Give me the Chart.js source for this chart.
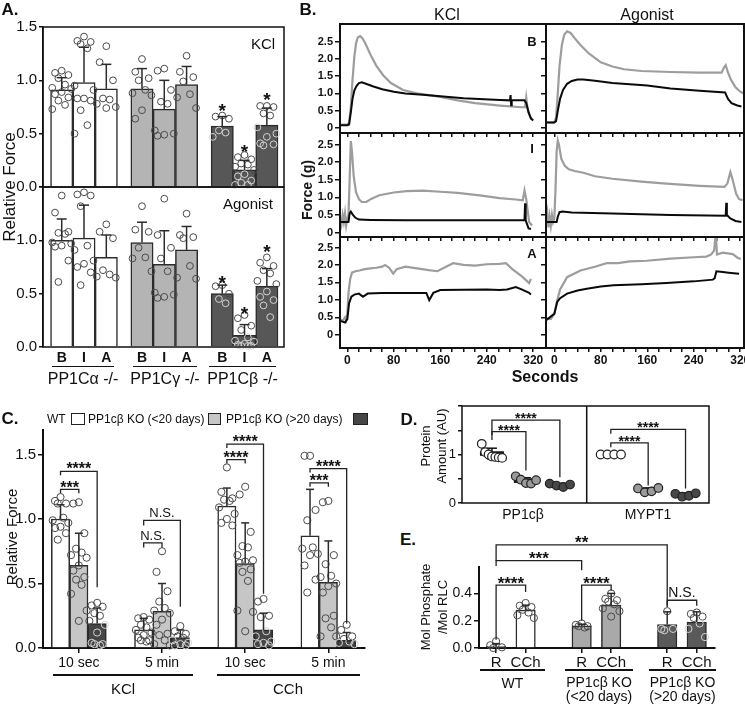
<!DOCTYPE html>
<html>
<head>
<meta charset="utf-8">
<title>PP1C knockout force figure</title>
<script src="https://cdn.jsdelivr.net/npm/chart.js@4.4.1/dist/chart.umd.min.js"></script>
<style>
  body { margin: 0; background: #fff; }
  #fig { position: relative; width: 745px; height: 705px; overflow: hidden; background: #fff;
         font-family: "Liberation Sans", Arial, sans-serif; color: #111; }
  #fig canvas { position: absolute; }
  .t { position: absolute; white-space: pre; line-height: 1; text-align: center; }
  .rule { position: absolute; height: 1.5px; background: #111; }
  .box { position: absolute; box-sizing: border-box; border: 1.3px solid #222; }
</style>
</head>
<body>
<div id="fig"></div>
<script>
// ---------- A. relative force, B / I / A for each PP1C knockout ----------
const aGenotypes = ['PP1Cα -/-', 'PP1Cγ -/-', 'PP1Cβ -/-'];
const aRegions = ['B', 'I', 'A'];
const aKclMean = [0.91, 0.98, 0.92, 0.92, 0.73, 0.96, 0.57, 0.16, 0.58];
const aKclSD = [0.115, 0.33, 0.23, 0.19, 0.27, 0.17, 0.09, 0.09, 0.16];
const aKclPts = [
  [1.09, 1.07, 1.05, 1.02, 0.96, 0.93, 0.92, 0.89, 0.87, 0.84, 0.81, 0.77, 0.73],
  [1.41, 1.37, 1.36, 1.34, 1.30, 0.95, 0.91, 0.83, 0.83, 0.81, 0.72, 0.58, 0.50],
  [1.32, 1.17, 1.00, 0.83, 0.82, 0.78, 0.75, 0.74],
  [1.20, 1.08, 1.02, 1.00, 0.91, 0.88, 0.86, 0.72, 0.64],
  [1.11, 1.09, 0.91, 0.80, 0.78, 0.53, 0.50, 0.49, 0.48],
  [1.23, 1.08, 1.03, 0.99, 0.87, 0.84, 0.74],
  [0.67, 0.66, 0.64, 0.53, 0.51, 0.47],
  [0.30, 0.28, 0.26, 0.22, 0.21, 0.19, 0.16, 0.12, 0.10, 0.06, 0.04, 0.02, 0.02],
  [0.76, 0.76, 0.75, 0.69, 0.67, 0.56, 0.50, 0.47, 0.41, 0.40, 0.39]
];
const aKclStars = [0.76, 0.375, 0.86];
const aAgoMean = [1.0, 1.02, 0.84, 0.98, 0.775, 0.91, 0.50, 0.11, 0.57];
const aAgoSD = [0.2, 0.31, 0.21, 0.19, 0.315, 0.22, 0.08, 0.10, 0.165];
const aAgoPts = [
  [1.42, 1.26, 1.08, 1.07, 1.06, 0.98, 0.97, 0.95, 0.94, 0.81, 0.61],
  [1.45, 1.43, 1.42, 1.32, 0.95, 0.91, 0.81, 0.78, 0.75, 0.70, 0.58],
  [1.15, 1.08, 1.02, 0.72, 0.68, 0.66, 0.65],
  [1.32, 1.10, 1.08, 0.93, 0.84, 0.83, 0.71],
  [1.39, 1.05, 0.93, 0.83, 0.71, 0.51, 0.49, 0.47, 0.46],
  [1.25, 1.05, 1.03, 1.02, 0.76, 0.65, 0.64],
  [0.58, 0.57, 0.50, 0.45, 0.41],
  [0.30, 0.27, 0.20, 0.16, 0.09, 0.06, 0.05, 0.03, 0.02, 0.01, 0.01, 0.01],
  [0.84, 0.79, 0.76, 0.72, 0.69, 0.62, 0.59, 0.52, 0.47, 0.44, 0.39, 0.28]
];
const aAgoStars = [0.65, 0.36, 0.94];

// ---------- B. force traces, [time (s), force (g)] ----------
const trKclB_gray = [[-12,0.1],[0,0.1],[3,0.15],[6,0.6],[9,1.4],[12,2.05],[15,2.45],[18,2.62],[22,2.66],[26,2.6],[30,2.48],[35,2.3],[40,2.12],[50,1.8],[62,1.52],[75,1.3],[96,1.1],[120,1.0],[140,0.95],[160,0.9],[190,0.8],[220,0.72],[263,0.65],[300,0.6],[306,0.6],[308,0.88],[310,0.6],[313,0.4],[317,0.25]];
const trKclB_black = [[-12,0.08],[0,0.08],[3,0.1],[6,0.45],[9,0.85],[12,1.08],[16,1.22],[20,1.3],[25,1.32],[32,1.28],[45,1.2],[60,1.12],[80,1.05],[100,1.0],[130,0.96],[160,0.92],[200,0.86],[263,0.81],[280,0.8],[281,0.95],[282,0.66],[283,0.8],[305,0.8],[308,0.72],[312,0.45],[316,0.28],[320,0.22]];
const trAgoB_gray = [[-14,0.16],[0,0.16],[3,0.3],[6,1.0],[9,1.8],[13,2.4],[17,2.7],[22,2.8],[28,2.75],[35,2.6],[45,2.4],[60,2.15],[80,1.9],[100,1.78],[120,1.7],[150,1.65],[200,1.62],[250,1.6],[288,1.6],[292,1.75],[295,1.82],[299,1.6],[304,1.4],[312,1.18],[320,1.05],[326,1.0]];
const trAgoB_black = [[-14,0.16],[0,0.16],[3,0.2],[6,0.5],[10,0.85],[15,1.1],[22,1.28],[30,1.36],[40,1.4],[50,1.4],[70,1.37],[100,1.3],[160,1.23],[200,1.14],[250,1.08],[294,1.03],[296,0.95],[299,0.84],[305,0.72],[315,0.65],[322,0.62]];
const trKclI_gray = [[-12,0.45],[-10,0.25],[-8,0.5],[-6,0.3],[-4,0.55],[-2,0.2],[0,0.4],[2,0.5],[4,1.5],[6,2.6],[8,2.3],[11,1.6],[15,1.15],[20,0.95],[25,0.87],[33,0.87],[40,0.95],[55,1.06],[80,1.14],[102,1.18],[130,1.19],[160,1.16],[190,1.13],[228,1.06],[262,0.98],[290,0.94],[302,0.92],[305,1.2],[308,0.95],[313,0.3],[318,0.2]];
const trKclI_black = [[-12,0.3],[2,0.3],[4,0.55],[6,0.6],[9,0.52],[14,0.42],[20,0.37],[40,0.36],[100,0.35],[200,0.35],[305,0.35],[306,0.83],[307,0.35],[312,0.12],[316,0.1]];
const trAgoI_gray = [[-14,0.3],[-12,0.55],[-10,0.15],[-8,0.45],[-6,0.2],[-4,0.5],[-2,0.3],[0,0.4],[2,1.2],[4,2.3],[6,2.62],[8,2.5],[12,2.1],[18,1.9],[25,1.8],[35,1.75],[50,1.7],[70,1.6],[100,1.53],[150,1.45],[193,1.39],[250,1.33],[293,1.3],[298,1.4],[303,1.72],[307,1.5],[313,1.1],[318,0.95],[324,0.92]];
const trAgoI_black = [[-14,0.3],[4,0.3],[6,0.45],[9,0.58],[14,0.6],[30,0.57],[100,0.54],[200,0.5],[295,0.48],[296,0.85],[297,0.5],[303,0.4],[312,0.33],[322,0.3]];
const trKclA_gray = [[-12,0.45],[-8,0.4],[-4,0.5],[-2,0.42],[0,0.6],[2,1.2],[5,1.6],[8,1.78],[14,1.82],[21,1.84],[30,1.88],[40,1.9],[50,1.92],[60,1.95],[65,2.0],[72,1.92],[79,1.75],[85,1.88],[100,1.95],[120,1.9],[140,1.85],[155,1.82],[170,1.95],[182,2.05],[200,2.0],[220,1.98],[240,2.02],[262,2.03],[273,2.05],[284,1.88],[300,1.68],[313,1.48],[316,1.6]];
const trKclA_black = [[-12,0.4],[-4,0.35],[0,0.45],[3,0.9],[7,1.09],[12,1.15],[20,1.18],[27,1.09],[35,1.18],[60,1.2],[100,1.2],[136,1.2],[141,0.99],[148,1.2],[160,1.28],[200,1.29],[240,1.3],[262,1.28],[275,1.3],[290,1.37],[300,1.3],[313,1.2],[316,1.15]];
const trAgoA_gray = [[-14,0.47],[-6,0.45],[0,0.6],[5,0.99],[10,1.3],[22,1.65],[45,1.84],[70,1.95],[90,2.05],[110,2.05],[130,2.1],[159,2.12],[200,2.18],[240,2.22],[262,2.24],[270,2.3],[275,2.41],[278,2.9],[280,2.3],[290,2.35],[307,2.31],[316,2.2],[321,2.17]];
const trAgoA_black = [[-14,0.42],[-4,0.55],[0,0.6],[5,0.94],[10,1.05],[22,1.18],[40,1.27],[56,1.32],[80,1.38],[102,1.42],[150,1.45],[193,1.48],[240,1.53],[273,1.58],[276,1.62],[279,1.82],[290,1.8],[300,1.78],[318,1.75]];
const bTicksX = [0, 20, 40, 60, 80, 100, 120, 140, 160, 180, 200, 220, 240, 260, 280, 300, 320];
const bTicksY = [0, 0.5, 1, 1.5, 2, 2.5];

// ---------- C. relative force, WT vs PP1cβ KO ----------
const cTimes = ['10 sec', '5 min', '10 sec', '5 min'];
const cStimuli = ['KCl', 'CCh'];
const cGroups = ['WT', 'PP1cβ KO (<20 days)', 'PP1cβ KO (>20 days)'];
const cMean = [[1.0, 0.64, 0.19], [0.14, 0.285, 0.08], [1.10, 0.655, 0.14], [0.87, 0.51, 0.06]];
const cSD = [[0.11, 0.25, 0.12], [0.09, 0.215, 0.06], [0.14, 0.315, 0.13], [0.36, 0.32, 0.06]];
const cPts = [
  [[1.17, 1.14, 1.12, 1.12, 1.01, 0.99, 0.97, 0.94, 0.93, 0.89, 0.84],
   [1.13, 1.12, 0.89, 0.77, 0.74, 0.72, 0.70, 0.64, 0.60, 0.55, 0.53, 0.49, 0.42, 0.29, 0.21],
   [0.35, 0.33, 0.32, 0.27, 0.25, 0.21, 0.18, 0.12, 0.04, 0.03, 0.03, 0.02]],
  [[0.24, 0.23, 0.22, 0.18, 0.16, 0.14, 0.12, 0.10, 0.08, 0.06, 0.05, 0.06],
   [0.75, 0.59, 0.44, 0.36, 0.31, 0.29, 0.27, 0.22, 0.18, 0.11, 0.10, 0.06, 0.03, 0.02],
   [0.17, 0.13, 0.11, 0.09, 0.08, 0.06, 0.04, 0.03, 0.02, 0.02]],
  [[1.40, 1.21, 1.16, 1.15, 1.14, 1.09, 1.04, 1.00, 0.97, 0.95],
   [1.25, 1.19, 0.90, 0.79, 0.78, 0.72, 0.68, 0.67, 0.66, 0.61, 0.59, 0.52, 0.29, 0.28, 0.13],
   [0.38, 0.36, 0.25, 0.24, 0.13, 0.09, 0.05, 0.04, 0.03, 0.02]],
  [[1.49, 1.49, 1.07, 0.99, 0.78, 0.77, 0.73, 0.72, 0.64, 0.53, 0.43],
   [1.14, 1.13, 0.72, 0.65, 0.56, 0.55, 0.50, 0.48, 0.43, 0.25, 0.23, 0.16, 0.09, 0.09],
   [0.18, 0.14, 0.09, 0.07, 0.05, 0.04, 0.03]]
];
// [time group, from, to, bracket height, left leg end, right leg end, label]
const cBrackets = [
  [0, 0, 1, 1.23, 1.20, 1.20, '***'], [0, 0, 2, 1.37, 1.34, 0.47, '****'],
  [1, 0, 1, 0.815, 0.78, 0.78, 'N.S.'], [1, 0, 2, 0.99, 0.95, 0.32, 'N.S.'],
  [2, 0, 1, 1.46, 1.43, 1.43, '****'], [2, 0, 2, 1.58, 1.55, 0.42, '****'],
  [3, 0, 1, 1.28, 1.25, 1.25, '***'], [3, 0, 2, 1.39, 1.36, 0.19, '****']
];

// ---------- D. protein amount ----------
const dProteins = ['PP1cβ', 'MYPT1'];
const dMean = [[1.02, 0.46, 0.37], [1.0, 0.27, 0.17]];
const dSD = [[0.11, 0.06, 0.03], [0, 0.04, 0.03]];
const dPts = [
  [[1.22, 1.05, 1.0, 0.96, 0.95, 0.94, 0.93], [0.55, 0.48, 0.41, 0.40, 0.47], [0.40, 0.36, 0.33, 0.38]],
  [[1, 1, 1, 1], [0.30, 0.22, 0.24, 0.31], [0.19, 0.13, 0.15, 0.20]]
];
const dBrackets = [
  [0, 0, 1, 1.47, 1.40, 0.67, '****'], [0, 0, 2, 1.71, 1.30, 0.53, '****'],
  [1, 0, 1, 1.24, 1.15, 0.36, '****'], [1, 0, 2, 1.52, 1.43, 0.30, '****']
];

// ---------- E. RLC phosphorylation ----------
const eGroups = ['WT', 'PP1cβ KO\n(<20 days)', 'PP1cβ KO\n(>20 days)'];
const eConds = ['R', 'CCh'];
const eMean = [[0.012, 0.277], [0.162, 0.314], [0.172, 0.19]];
const eSD = [[0.02, 0.037], [0.012, 0.086], [0.093, 0.075]];
const ePts = [
  [[0.05, 0.02, 0.005, 0.0], [0.33, 0.31, 0.30, 0.28, 0.26, 0.24, 0.22]],
  [[0.18, 0.17, 0.16, 0.15, 0.16], [0.40, 0.36, 0.35, 0.34, 0.32, 0.29, 0.27, 0.23]],
  [[0.27, 0.14, 0.14, 0.13], [0.26, 0.25, 0.23, 0.22, 0.18, 0.14, 0.08]]
];
// [group, cond, group, cond, height, left leg end, right leg end, label]
const eBrackets = [
  [0, 0, 0, 1, 0.46, 0.06, 0.41, '****'], [1, 0, 1, 1, 0.46, 0.20, 0.42, '****'],
  [2, 0, 2, 1, 0.35, 0.31, 0.31, 'N.S.'], [0, 0, 1, 0, 0.64, 0.60, 0.57, '***'],
  [0, 0, 2, 0, 0.755, 0.64, 0.30, '**']
];

// ---------- helpers ----------
const FONT = '"Liberation Sans", Arial, Helvetica, sans-serif';
Chart.defaults.font.family = FONT;
Chart.defaults.color = '#111';
const fig = document.getElementById('fig');

function txt(s, x, y, css, mode) {
  const d = document.createElement('div');
  d.className = 't';
  d.textContent = s;
  d.style.cssText = `left:${x}px;top:${y}px;` + css;
  const tr = mode === 'left' ? 'translate(0,-50%)' : 'translate(-50%,-50%)';
  d.style.transform = tr + (mode === 'rot' ? ' rotate(-90deg)' : '');
  fig.appendChild(d);
}
function rule(x1, x2, y) {
  const d = document.createElement('div');
  d.className = 'rule';
  d.style.cssText = `left:${x1}px;top:${y - 0.75}px;width:${x2 - x1}px`;
  fig.appendChild(d);
}
function box(x, y, w, h, fill) {
  const d = document.createElement('div');
  d.className = 'box';
  d.style.cssText = `left:${x}px;top:${y}px;width:${w}px;height:${h}px;background:${fill}`;
  fig.appendChild(d);
}

// place a canvas so that the chart area lands on area = [left, top, right, bottom]
function addCanvas(area, yW, xH) {
  const p = { l: 14, r: 18, t: 14, b: 14 };
  const c = document.createElement('canvas');
  const w = area[2] - area[0] + yW + p.l + p.r;
  const h = area[3] - area[1] + xH + p.t + p.b;
  c.width = w; c.height = h;
  c.style.cssText = `left:${area[0] - yW - p.l}px;top:${area[1] - p.t}px;width:${w}px;height:${h}px`;
  fig.appendChild(c);
  return { canvas: c, padding: { left: p.l, right: p.r, top: p.t, bottom: p.b } };
}

function baseOpts(padding) {
  return {
    responsive: false, animation: false, devicePixelRatio: 1, events: [],
    layout: { padding },
    plugins: { legend: { display: false }, tooltip: { enabled: false } }
  };
}

function axis(o) {
  return {
    type: 'linear', min: o.min, max: o.max, offset: false,
    afterFit: s => { if (o.h) s.height = o.size; else s.width = o.size; },
    afterBuildTicks: s => { s.ticks = o.ticks.map(v => ({ value: v })); },
    grid: { display: true, drawOnChartArea: false, drawTicks: o.tickLen > 0, tickLength: o.tickLen || 0,
            color: '#111', lineWidth: 1.5, offset: false },
    border: { display: !!o.border, color: '#111', width: o.border || 1 },
    ticks: { display: !!o.label, autoSkip: false, maxRotation: 0, minRotation: 0,
             padding: o.pad != null ? o.pad : 2, color: '#111', font: o.font || { size: 14 },
             callback: (v, i) => o.label ? o.label(v, i) : '' }
  };
}

function seg(ctx, pts, lw, color) {
  ctx.save();
  ctx.beginPath();
  ctx.lineWidth = lw; ctx.strokeStyle = color;
  pts.forEach((p, i) => i ? ctx.lineTo(p[0], p[1]) : ctx.moveTo(p[0], p[1]));
  ctx.stroke();
  ctx.restore();
}

function bracket(ctx, x, y, x1, x2, yTop, yL, yR, s, size) {
  const X1 = x.getPixelForValue(x1), X2 = x.getPixelForValue(x2), Y = y.getPixelForValue(yTop);
  seg(ctx, [[X1, y.getPixelForValue(yL)], [X1, Y], [X2, Y], [X2, y.getPixelForValue(yR)]], 1.3, '#222');
  const star = s[0] === '*';
  ctx.save();
  ctx.font = (star ? 'bold ' + size : Math.round(size * 0.8)) + 'px ' + FONT;
  ctx.fillStyle = '#111'; ctx.textAlign = 'center'; ctx.textBaseline = 'alphabetic';
  ctx.fillText(s, (X1 + X2) / 2, star ? Y + size * 0.2 : Y - 3);
  ctx.restore();
}

// bars + scattered replicates + upper error bars
function barPanel(o) {
  const { canvas, padding } = addCanvas(o.area, o.yW, o.xH);
  const unit = (o.area[2] - o.area[0]) / (o.xr[1] - o.xr[0]);
  const pat = [0, -0.6, 0.6, -0.3, 0.3, -0.85, 0.85];
  const dots = [];
  o.pts.forEach((vals, i) => {
    vals.slice().sort((a, b) => b - a).forEach((v, k) => {
      dots.push({ x: o.xs[i] + pat[k % pat.length] * o.bw * 0.5, y: v,
                  c: (o.dark[i] && v < o.means[i]) ? '#d4d4d4' : '#4a4a4a' });
    });
  });
  return new Chart(canvas, {
    type: 'bar',
    data: { datasets: [
      { type: 'scatter', order: 0, data: dots, clip: false, pointRadius: o.r || 3.4, pointHoverRadius: o.r || 3.4,
        pointBorderWidth: 1, pointBackgroundColor: 'rgba(255,255,255,0)',
        pointBorderColor: c => (c.raw && c.raw.c) || '#4a4a4a' },
      { type: 'bar', order: 1, data: o.xs.map((x, i) => ({ x, y: o.means[i] })),
        backgroundColor: o.fills, borderColor: '#2b2b2b', borderWidth: 1.5, barThickness: o.bw * unit }
    ] },
    options: Object.assign(baseOpts(padding), { scales: {
      x: axis(Object.assign({ h: true, min: o.xr[0], max: o.xr[1], size: o.xH }, o.x)),
      y: axis(Object.assign({ min: o.yr[0], max: o.yr[1], size: o.yW }, o.y))
    } }),
    plugins: [{ id: 'deco', afterDatasetsDraw(chart) {
      const { ctx, chartArea: ca, scales: { x, y } } = chart;
      o.xs.forEach((xv, i) => {
        if (!o.sds[i]) return;
        const px = x.getPixelForValue(xv);
        const y1 = y.getPixelForValue(o.means[i]), y2 = y.getPixelForValue(o.means[i] + o.sds[i]);
        seg(ctx, [[px, y1], [px, y2]], 1.5, '#2b2b2b');
        seg(ctx, [[px - o.cap, y2], [px + o.cap, y2]], 1.5, '#2b2b2b');
      });
      if (o.frame) {
        ctx.save(); ctx.strokeStyle = '#111'; ctx.lineWidth = o.frame;
        ctx.strokeRect(ca.left, ca.top, ca.right - ca.left, ca.bottom - ca.top); ctx.restore();
      }
      if (o.extra) o.extra(ctx, x, y, ca);
    } }]
  });
}

// ---------- A ----------
const aXs = aKclMean.map((_, i) => Math.floor(i / 3) * 3.6 + i % 3);
const aFills = aXs.map((_, i) => ['#ffffff', '#b4b4b4', '#575757'][Math.floor(i / 3)]);
const aDark = aXs.map((_, i) => i >= 6);
function aStarDraw(stars) {
  return (ctx, x, y) => stars.forEach((v, k) => {
    ctx.save(); ctx.font = 'bold 19px ' + FONT; ctx.fillStyle = '#111';
    ctx.textAlign = 'center'; ctx.textBaseline = 'alphabetic';
    ctx.fillText('*', x.getPixelForValue(aXs[6 + k]), y.getPixelForValue(v) + 11);
    ctx.restore();
  });
}
barPanel({ area: [43, 27, 284, 187], yW: 43, xH: 0, xr: [-0.839, 9.969], yr: [0, 1.5],
  xs: aXs, means: aKclMean, sds: aKclSD, pts: aKclPts, fills: aFills, dark: aDark, bw: 1, cap: 5,
  x: { ticks: aXs, label: null, tickLen: 0 },
  y: { ticks: [0, 0.5, 1, 1.5], label: v => v.toFixed(1), font: { size: 15 }, tickLen: 4, border: 1.5 },
  frame: 1.5, extra: aStarDraw(aKclStars) });
barPanel({ area: [43, 187, 284, 347], yW: 43, xH: 16, xr: [-0.839, 9.969], yr: [0, 1.5],
  xs: aXs, means: aAgoMean, sds: aAgoSD, pts: aAgoPts, fills: aFills, dark: aDark, bw: 1, cap: 5,
  x: { ticks: aXs, label: (v, i) => aRegions[i % 3], font: { size: 14, weight: 'bold' }, tickLen: 0, pad: 3 },
  y: { ticks: [0, 0.5, 1, 1.5], label: v => v === 1.5 ? '' : v.toFixed(1), font: { size: 15 }, tickLen: 4, border: 1.5 },
  frame: 1.5, extra: aStarDraw(aAgoStars) });

// ---------- B ----------
const bCols = [{ x: [340, 546], xr: [-12.6, 342] }, { x: [546, 744], xr: [-14.3, 326.5] }];
const bRows = [{ y: [24, 133], yr: [-0.145, 3.01] }, { y: [133, 237], yr: [-0.125, 2.83] }, { y: [237, 348], yr: [-0.377, 2.8] }];
const bTraces = [
  [[trKclB_gray, trKclB_black], [trAgoB_gray, trAgoB_black]],
  [[trKclI_gray, trKclI_black], [trAgoI_gray, trAgoI_black]],
  [[trKclA_gray, trKclA_black], [trAgoA_gray, trAgoA_black]]
];
bRows.forEach((row, r) => bCols.forEach((col, c) => {
  const showY = c === 0, showX = r === 2;
  const yW = showY ? 40 : 5, xH = showX ? 18 : 4;
  const area = [col.x[0], row.y[0], col.x[1], row.y[1]];
  const { canvas, padding } = addCanvas(area, yW, xH);
  const [gray, black] = bTraces[r][c];
  new Chart(canvas, {
    type: 'line',
    data: { datasets: [
      { order: 1, data: gray.map(p => ({ x: p[0], y: p[1] })), borderColor: '#9d9d9d', borderWidth: 2.2, pointRadius: 0, tension: 0, fill: false },
      { order: 0, data: black.map(p => ({ x: p[0], y: p[1] })), borderColor: '#0a0a0a', borderWidth: 2, pointRadius: 0, tension: 0, fill: false }
    ] },
    options: Object.assign(baseOpts(padding), { scales: {
      x: axis({ h: true, min: col.xr[0], max: col.xr[1], size: xH, ticks: bTicksX,
                label: showX ? (v => v % 80 === 0 ? String(v) : '') : null,
                font: { size: 12, weight: 'bold' }, tickLen: 4, pad: 1 }),
      y: axis({ min: row.yr[0], max: row.yr[1], size: yW, ticks: bTicksY,
                label: showY ? (v => v === 0 ? '0' : v.toFixed(1)) : null,
                font: { size: 11, weight: 'bold' }, tickLen: 5, pad: 2 })
    } }),
    plugins: [{ id: 'frame', afterDraw(chart) {
      const ca = chart.chartArea, ctx = chart.ctx;
      ctx.save(); ctx.strokeStyle = '#111'; ctx.lineWidth = 2;
      ctx.strokeRect(ca.left, ca.top, ca.right - ca.left, ca.bottom - ca.top); ctx.restore();
    } }]
  });
}));

// ---------- C ----------
const cXs = [], cMeans = [], cSDs = [], cPtsFlat = [], cFills = [], cDark = [];
const cFill = ['#ffffff', '#c6c6c6', '#464646'];
cMean.forEach((g, gi) => g.forEach((m, j) => {
  cXs.push(gi * 4.54 + j); cMeans.push(m); cSDs.push(cSD[gi][j]); cPtsFlat.push(cPts[gi][j]);
  cFills.push(cFill[j]); cDark.push(j === 2);
}));
barPanel({ area: [43, 430, 365, 648], yW: 43, xH: 22, xr: [-0.956, 16.62], yr: [0, 1.69],
  xs: cXs, means: cMeans, sds: cSDs, pts: cPtsFlat, fills: cFills, dark: cDark, bw: 1, cap: 4, r: 3.6,
  x: { ticks: cTimes.map((_, gi) => gi * 4.54 + 1), label: (v, i) => cTimes[i], font: { size: 14 }, tickLen: 5, border: 2, pad: 2 },
  y: { ticks: [0, 0.5, 1, 1.5], label: v => v.toFixed(1), font: { size: 15 }, tickLen: 5, border: 2 },
  extra: (ctx, x, y) => cBrackets.forEach(b =>
    bracket(ctx, x, y, b[0] * 4.54 + b[1], b[0] * 4.54 + b[2], b[3], b[4], b[5], b[6], 16)) });

// ---------- D ----------
(function () {
  const area = [462, 406, 709, 503];
  const dXs = [[0, 1, 2], [3.5, 4.6, 5.7]];
  const dFill = ['#ffffff', '#9a9a9a', '#474747'];
  const { canvas, padding } = addCanvas(area, 16, 0);
  const dots = [];
  dPts.forEach((grp, p) => grp.forEach((vals, g) => {
    const n = vals.length, step = Math.min(0.22, 0.6 / Math.max(n - 1, 1));
    vals.forEach((v, k) => dots.push({ x: dXs[p][g] + (k - (n - 1) / 2) * step, y: v, f: dFill[g] }));
  }));
  new Chart(canvas, {
    type: 'scatter',
    data: { datasets: [{ data: dots, clip: false, pointRadius: 4.3, pointHoverRadius: 4.3, pointBorderWidth: 1.2,
      pointBorderColor: '#222', pointBackgroundColor: c => (c.raw && c.raw.f) || '#fff' }] },
    options: Object.assign(baseOpts(padding), { scales: {
      x: axis({ h: true, min: -0.882, max: 6.391, size: 0, ticks: [0], label: null, tickLen: 0 }),
      y: axis({ min: 0, max: 2, size: 16, ticks: [0, 0.5, 1, 1.5, 2], label: v => (v === 0 || v === 1) ? String(v) : '',
                font: { size: 13 }, tickLen: 4, pad: 2 })
    } }),
    plugins: [{ id: 'dDeco',
      beforeDatasetsDraw(chart) {
        const { ctx, scales: { x, y } } = chart;
        dMean.forEach((ms, p) => ms.forEach((m, g) => {
          const px = x.getPixelForValue(dXs[p][g]), py = y.getPixelForValue(m);
          const sd = dSD[p][g];
          if (sd) {
            const t = y.getPixelForValue(m + sd), b = y.getPixelForValue(m - sd);
            seg(ctx, [[px, t], [px, b]], 1.5, '#111');
            seg(ctx, [[px - 5, t], [px + 5, t]], 1.5, '#111');
            seg(ctx, [[px - 5, b], [px + 5, b]], 1.5, '#111');
          }
          seg(ctx, [[px - 12, py], [px + 12, py]], 4.5, '#111');
        }));
      },
      afterDatasetsDraw(chart) {
        const { ctx, chartArea: ca, scales: { x, y } } = chart;
        ctx.save(); ctx.strokeStyle = '#111'; ctx.lineWidth = 1.5;
        ctx.strokeRect(ca.left, ca.top, ca.right - ca.left, ca.bottom - ca.top); ctx.restore();
        const dv = x.getPixelForValue(2.79);
        seg(ctx, [[dv, ca.top], [dv, ca.bottom]], 1.5, '#111');
        dBrackets.forEach(b => bracket(ctx, x, y, dXs[b[0]][b[1]], dXs[b[0]][b[2]], b[3], b[4], b[5], b[6], 14));
      } }]
  });
})();

// ---------- E ----------
const eXs = [], eMeans = [], eSDs = [], ePtsFlat = [], eFills = [], eDark = [];
const eFill = ['#ffffff', '#a9a9a9', '#5a5a5a'];
eMean.forEach((g, gi) => g.forEach((m, j) => {
  eXs.push(gi * 2.9 + j); eMeans.push(m); eSDs.push(eSD[gi][j]); ePtsFlat.push(ePts[gi][j]);
  eFills.push(eFill[gi]); eDark.push(gi === 2);
}));
barPanel({ area: [479, 532, 715, 648], yW: 35, xH: 20, xr: [-0.58, 7.42], yr: [0, 0.85],
  xs: eXs, means: eMeans, sds: eSDs, pts: ePtsFlat, fills: eFills, dark: eDark, bw: 0.66, cap: 4, r: 3.6,
  x: { ticks: eXs, label: (v, i) => eConds[i % 2], font: { size: 15 }, tickLen: 5, border: 2, pad: 1 },
  y: { ticks: [0, 0.2, 0.4], label: v => v.toFixed(1), font: { size: 14 }, tickLen: 5 },
  extra: (ctx, x, y, ca) => {
    seg(ctx, [[ca.left, y.getPixelForValue(0)], [ca.left, y.getPixelForValue(0.6)]], 2, '#111');
    eBrackets.forEach(b => bracket(ctx, x, y, b[0] * 2.9 + b[1], b[2] * 2.9 + b[3], b[4], b[5], b[6], b[7], 17));
  } });

// ---------- text ----------
const B17 = 'font-size:17px;font-weight:bold;';
txt('A.', 10, 9, B17);
txt('B.', 308, 9, B17);
txt('C.', 10, 418, B17);
txt('D.', 409, 419, B17);
txt('E.', 408, 539, B17);

// A
txt('KCl', 263, 43, 'font-size:15px;');
txt('Agonist', 248, 203, 'font-size:15px;');
txt('Relative Force', 9, 187, 'font-size:17px;', 'rot');
[[52, 114], [133, 197], [209, 276]].forEach((r, i) => {
  rule(r[0], r[1], 366.5);
  txt(aGenotypes[i], (r[0] + r[1]) / 2, 379, 'font-size:16px;');
});

// B
txt('KCl', 447, 15, 'font-size:16px;');
txt('Agonist', 647, 15, 'font-size:16px;');
txt('Force (g)', 307, 190, 'font-size:14px;font-weight:bold;', 'rot');
txt('B', 532, 41, 'font-size:13px;font-weight:bold;');
txt('I', 532, 148, 'font-size:13px;font-weight:bold;');
txt('A', 532, 253, 'font-size:13px;font-weight:bold;');
txt('Seconds', 545, 377, 'font-size:16px;font-weight:bold;');

// C
txt(cGroups[0], 47, 419, 'font-size:12px;', 'left');
box(71, 413, 14, 12, cFill[0]);
txt(cGroups[1], 88, 419, 'font-size:12px;', 'left');
box(208, 413, 13, 12, cFill[1]);
txt(cGroups[2], 226, 419, 'font-size:12px;', 'left');
box(353, 413, 15, 12, cFill[2]);
txt('Relative Force', 11, 537, 'font-size:15px;', 'rot');
rule(53, 193, 675); txt(cStimuli[0], 123, 688, 'font-size:15px;');
rule(217, 360, 675); txt(cStimuli[1], 288, 688, 'font-size:15px;');

// D
txt('Protein\nAmount (AU)', 434, 446, 'font-size:13px;line-height:16px;', 'rot');
txt(dProteins[0], 523, 514, 'font-size:14px;');
txt(dProteins[1], 648, 514, 'font-size:14px;');

// E
txt('Mol Phosphate\n/Mol RLC', 434, 607, 'font-size:13px;line-height:17px;', 'rot');
[[480, 545], [565, 633], [649, 716]].forEach((r, i) => {
  rule(r[0], r[1], 670);
  txt(eGroups[i], (r[0] + r[1]) / 2, i ? 689 : 683, 'font-size:14px;line-height:14px;');
});
</script>
</body>
</html>
